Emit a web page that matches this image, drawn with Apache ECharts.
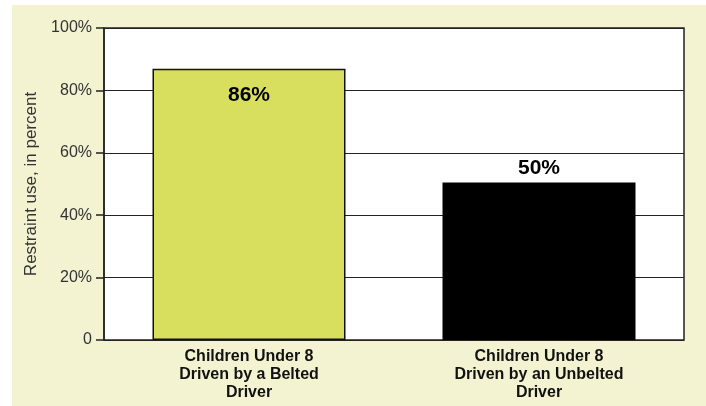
<!DOCTYPE html>
<html><head><meta charset="utf-8">
<script src="https://cdn.jsdelivr.net/npm/echarts@6/dist/echarts.min.js"></script>
<style>html,body{margin:0;padding:0;background:#fff}#c{width:706px;height:406px}</style>
</head><body><div id="c"></div>
<script>
const categories = ['Children Under 8\nDriven by a Belted\nDriver', 'Children Under 8\nDriven by an Unbelted\nDriver'];
const values = [86.9, 50.5];
const valueLabels = ['86%', '50%'];
const yTicks = [0, 20, 40, 60, 80, 100];
const yTickLabels = ['0', '20%', '40%', '60%', '80%', '100%'];
const barColors = ['#D8DE5E', '#000000'];

const chart = echarts.init(document.getElementById('c'), null, {renderer: 'canvas'});
chart.setOption({
  animation: false,
  backgroundColor: '#ffffff',
  graphic: [{type: 'rect', z: -10, shape: {x: 12, y: 5, width: 700, height: 410}, style: {fill: '#F3F3D1'}}],
  grid: {left: 104, top: 28, right: 22, bottom: 66, show: true, backgroundColor: '#ffffff', borderColor: '#222', borderWidth: 1.5},
  xAxis: {
    type: 'category', data: categories,
    axisLine: {show: false}, axisTick: {show: false},
    axisLabel: {fontFamily: 'Liberation Sans, Arial', fontWeight: 'bold', fontSize: 16, color: '#111', lineHeight: 18, margin: 8}
  },
  yAxis: {
    type: 'value', min: 0, max: 100, interval: 20,
    name: 'Restraint use, in percent', nameLocation: 'middle', nameGap: 58, nameRotate: 90,
    nameTextStyle: {fontFamily: 'Liberation Sans, Arial', fontSize: 17, color: '#333'},
    axisLine: {show: true, lineStyle: {color: '#222', width: 1.5}},
    axisTick: {show: true, length: 8, lineStyle: {color: '#222', width: 1.5}},
    axisLabel: {fontFamily: 'Liberation Sans, Arial', fontSize: 16, color: '#333', margin: 12,
      formatter: v => yTickLabels[yTicks.indexOf(v)]},
    splitLine: {show: true, lineStyle: {color: '#222', width: 1.2}}
  },
  series: [{
    type: 'bar', barWidth: 193,
    data: values.map((v, i) => ({
      value: v,
      itemStyle: {color: barColors[i], borderColor: '#111', borderWidth: i === 0 ? 1.5 : 0},
      label: {show: true, position: i === 0 ? 'insideTop' : 'top', distance: i === 0 ? 16 : 4,
        formatter: valueLabels[i], fontFamily: 'Liberation Sans, Arial', fontWeight: 'bold', fontSize: 21, color: '#000'}
    }))
  }]
});
</script></body></html>
